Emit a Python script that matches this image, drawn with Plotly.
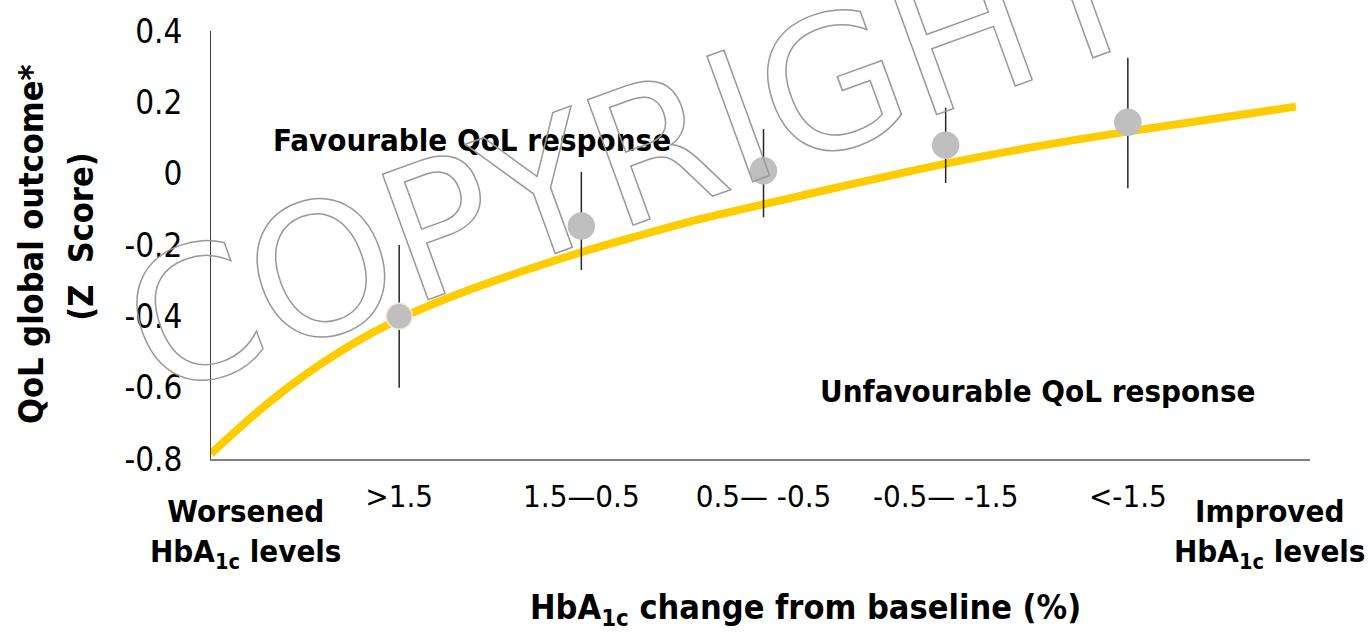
import plotly.graph_objects as go

# HbA1c change categories (x positions 1..5)
categories = [1, 2, 3, 4, 5]
category_labels = [">1.5", "1.5\u20140.5", "0.5\u2014 -0.5", "-0.5\u2014 -1.5", "<-1.5"]

# mean QoL z score and error bar ends
qol_mean = [-0.40, -0.147, 0.008, 0.08, 0.144]
qol_upper = [-0.20, 0.005, 0.125, 0.185, 0.325]
qol_lower = [-0.60, -0.27, -0.122, -0.026, -0.041]

# fitted curve
curve_x = [-0.033, 0.117, 0.301, 0.484, 0.666, 0.850, 1.060, 1.372, 1.738, 1.995,
           2.287, 2.654, 2.989, 3.203, 4.0, 4.484, 4.998, 5.923]
curve_y = [-0.785, -0.715, -0.635, -0.564, -0.502, -0.447, -0.393, -0.328, -0.263, -0.221,
           -0.178, -0.127, -0.087, -0.062, 0.028, 0.075, 0.118, 0.188]

y_ticks = [-0.8, -0.6, -0.4, -0.2, 0, 0.2, 0.4]
y_ticktext = ["-0.8", "-0.6", "-0.4", "-0.2", "0", "0.2", "0.4"]

FONT = "DejaVu Sans Condensed, DejaVu Sans, sans-serif"

err_plus = [u - m for u, m in zip(qol_upper, qol_mean)]
err_minus = [m - l for m, l in zip(qol_mean, qol_lower)]

fig = go.Figure()
fig.add_trace(go.Scatter(
    x=curve_x, y=curve_y, mode="lines",
    line=dict(color="#FFCC00", width=8, shape="spline", smoothing=1.0),
    hoverinfo="skip", showlegend=False))
fig.add_trace(go.Scatter(
    x=categories, y=qol_mean, mode="markers",
    marker=dict(color="#BFBFBF", size=26,
                line=dict(color=["#FBE5D6", "#BFBFBF", "#BFBFBF", "#BFBFBF", "#BFBFBF"], width=1.5)),
    error_y=dict(type="data", symmetric=False, array=err_plus, arrayminus=err_minus,
                 color="#262626", thickness=1.5, width=0),
    showlegend=False))

bold = dict(family=FONT, size=31, color="black")
annotations = [
    dict(text="<b>Favourable QoL response</b>", x=0.2375, y=0.745, font=bold),
    dict(text="<b>Unfavourable QoL response</b>", x=0.7525, y=0.159, font=bold),
    dict(text="<b>Worsened<br>HbA<sub>1c</sub> levels</b>", x=0.031, y=-0.173, font=bold),
    dict(text="<b>Improved<br>HbA<sub>1c</sub> levels</b>", x=0.9636, y=-0.173, font=bold),
    dict(text="<b>HbA<sub>1c</sub> change from baseline (%)</b>", x=0.5405, y=-0.3525,
         font=dict(family=FONT, size=34, color="black")),
    dict(text="<b>QoL global outcome*</b>", x=-0.164, y=0.502, textangle=-90,
         font=dict(family=FONT, size=34, color="black")),
    dict(text="<b>(Z\u00a0 Score)</b>", x=-0.118, y=0.52, textangle=-90,
         font=dict(family=FONT, size=34, color="black")),
    dict(text="COPYRIGHT", x=0.384, y=0.705, textangle=-20,
         font=dict(family="DejaVu Sans, sans-serif", size=183, color="rgba(150,150,150,0.35)")),
]
for a in annotations:
    a.update(xref="paper", yref="paper", showarrow=False, xanchor="center", yanchor="middle")

fig.update_layout(
    width=1371, height=634,
    margin=dict(l=211, r=61, t=23, b=175),
    plot_bgcolor="white", paper_bgcolor="white",
    font=dict(family=FONT, size=31, color="black"),
    annotations=annotations,
    xaxis=dict(range=[-0.033, 6.0], showgrid=False, zeroline=False, showline=True,
               linecolor="#808080", linewidth=2, ticks="", tickvals=categories,
               ticktext=category_labels, tickfont=dict(family=FONT, size=31),
               ticklabelstandoff=9),
    yaxis=dict(range=[-0.8, 0.4], showgrid=False, zeroline=False, showline=True,
               linecolor="#404040", linewidth=1, ticks="", tickvals=y_ticks,
               ticktext=y_ticktext, tickfont=dict(family=FONT, size=33),
               ticklabelstandoff=21),
)

# drop the page margin and turn the watermark into outlined text like the original
post = """
document.body.style.margin = '0';
var gd = document.getElementById('{plot_id}');
function wm(){
  gd.querySelectorAll('text.annotation-text').forEach(function(t){
    if (t.textContent === 'COPYRIGHT') {
      t.style.fill = 'none'; t.style.stroke = '#999999'; t.style.strokeWidth = '1.5px';
    }
  });
}
wm(); gd.on('plotly_afterplot', wm);
"""

fig.write_html("out.html", post_script=post, config={"displayModeBar": False})
